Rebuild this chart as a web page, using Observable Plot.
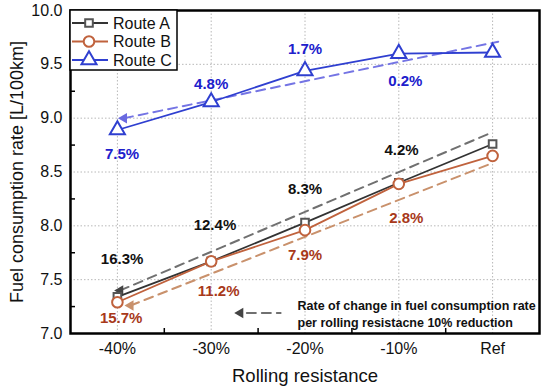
<!DOCTYPE html>
<html>
<head>
<meta charset="utf-8">
<script src="https://cdn.jsdelivr.net/npm/d3@7"></script>
<script src="https://cdn.jsdelivr.net/npm/@observablehq/plot@0.6"></script>
<style>
  html, body { margin: 0; padding: 0; background: #fff; }
  #chart { position: relative; width: 550px; height: 390px; }
  svg { font-family: "Liberation Sans", Arial, sans-serif; }
</style>
</head>
<body>
<div id="chart"></div>
<script>
// ---- data ----
const categories = ["-40%", "-30%", "-20%", "-10%", "Ref"];
const seriesNames = ["Route A", "Route B", "Route C"];
const routeA = [7.34, 7.67, 8.03, 8.40, 8.76];
const routeB = [7.29, 7.67, 7.96, 8.39, 8.65];
const routeC = [8.89, 9.15, 9.44, 9.60, 9.61];

// dashed trend lines (start at arrow head, end at right)
const trendAX = [0.03, 4.0];
const trendAY = [7.40, 8.87];
const trendBX = [0.14, 3.99];
const trendBY = [7.26, 8.58];
const trendCX = [0.07, 4.06];
const trendCY = [9.00, 9.71];

// percentage annotations
const labelsA = ["16.3%", "12.4%", "8.3%", "4.2%"];
const labelAX = [0.05, 1.04, 2.0, 3.03];
const labelAY = [7.69, 8.01, 8.34, 8.70];
const labelsB = ["15.7%", "11.2%", "7.9%", "2.8%"];
const labelBX = [0.04, 1.08, 2.0, 3.08];
const labelBY = [7.14, 7.39, 7.73, 8.07];
const labelsC = ["7.5%", "4.8%", "1.7%", "0.2%"];
const labelCX = [0.05, 1.0, 2.0, 3.07];
const labelCY = [8.67, 9.32, 9.64, 9.34];

// note
const noteText = "Rate of change in fuel consumption rate\nper rolling resistacne 10% reduction";
const noteArrowX = [1.31];
const noteLineX = [1.38, 1.74];
const noteY = [7.19];
const noteTextX = [1.92];

const yTicks = [7.0, 7.5, 8.0, 8.5, 9.0, 9.5, 10.0];
const yMinor = [7.25, 7.75, 8.25, 8.75, 9.25, 9.75];
const xMinor = [0.5, 1.5, 2.5, 3.5];

// ---- styles ----
const colLine = { "Route A": "#333333", "Route B": "#c0623d", "Route C": "#2f3fd0" };
const colMark = { "Route A": "#555555", "Route B": "#c0623d", "Route C": "#2f3fd0" };
const colDash = { "Route A": "#707070", "Route B": "#c9916c", "Route C": "#7474e4" };
const colHead = { "Route A": "#444444", "Route B": "#c9916c", "Route C": "#6a6ae0" };
const colLab = { "Route A": "#111111", "Route B": "#a8391a", "Route C": "#2020cc" };
const symbols = { "Route A": "square", "Route B": "circle", "Route C": "triangle" };
const sizes = { "Route A": 4.3, "Route B": 5.3, "Route C": 5.6 };

// ---- build tables ----
const seriesVals = [routeA, routeB, routeC];
const points = [];
seriesNames.forEach((s, k) => seriesVals[k].forEach((v, i) => points.push({ s, x: i, y: v })));
const trends = [
  { s: "Route A", X: trendAX, Y: trendAY },
  { s: "Route B", X: trendBX, Y: trendBY },
  { s: "Route C", X: trendCX, Y: trendCY }
];
const trendPts = trends.flatMap(t => t.X.map((x, i) => ({ s: t.s, x, y: t.Y[i] })));
const arrowHeads = trends.map(t => ({ s: t.s, x: t.X[0], y: t.Y[0] }));
const labelSets = [
  { s: "Route A", L: labelsA, X: labelAX, Y: labelAY },
  { s: "Route B", L: labelsB, X: labelBX, Y: labelBY },
  { s: "Route C", L: labelsC, X: labelCX, Y: labelCY }
];
const labels = labelSets.flatMap(o => o.L.map((t, i) => ({ s: o.s, t, x: o.X[i], y: o.Y[i] })));

const marks = [
  Plot.gridX([0, 1, 2, 3, 4], { stroke: "#b8b8b8", strokeOpacity: 1, strokeDasharray: "1.5,2" }),
  Plot.gridY([7.5, 8.0, 8.5, 9.0, 9.5], { stroke: "#b8b8b8", strokeOpacity: 1, strokeDasharray: "1.5,2" }),
  Plot.axisY(yTicks, { tickSize: 0, tickPadding: 8, tickFormat: d => d.toFixed(1), fontSize: 16, label: null, fill: "#111" }),
  Plot.axisY(yMinor, { tickSize: -5, tickFormat: () => "", label: null, strokeWidth: 1.5 }),
  Plot.axisX([0, 1, 2, 3, 4], { tickSize: 0, tickPadding: 9, tickFormat: i => categories[i], fontSize: 16, label: null, fill: "#111" }),
  Plot.axisX(xMinor, { tickSize: -5, tickFormat: () => "", label: null, strokeWidth: 1.5 }),
  Plot.text(["Fuel consumption rate [L/100km]"], { frameAnchor: "left", dx: -53, rotate: -90, textAnchor: "middle", lineAnchor: "middle", fontSize: 18, fill: "#111" }),
  Plot.text(["Rolling resistance"], { frameAnchor: "bottom", dy: 43, textAnchor: "middle", lineAnchor: "middle", fontSize: 18.5, fill: "#111" }),
  // dashed trend lines
  ...trends.map(t => Plot.line(trendPts.filter(d => d.s === t.s), { x: "x", y: "y", stroke: colDash[t.s], strokeWidth: 2, strokeDasharray: "9,6" })),
  ...trends.map(t => Plot.dot(arrowHeads.filter(d => d.s === t.s), { x: "x", y: "y", symbol: "triangle2", r: 5, rotate: -90, fill: colHead[t.s], stroke: "none" })),
  // main lines
  ...seriesNames.map(s => Plot.line(points.filter(d => d.s === s), { x: "x", y: "y", stroke: colLine[s], strokeWidth: 1.8 })),
  ...seriesNames.map(s => Plot.dot(points.filter(d => d.s === s), { x: "x", y: "y", symbol: symbols[s], r: sizes[s], stroke: colMark[s], strokeWidth: 2, fill: "white" })),
  // annotations
  ...seriesNames.map(s => Plot.text(labels.filter(d => d.s === s), { x: "x", y: "y", text: "t", fill: colLab[s], fontSize: 15, fontWeight: "bold" })),
  // note
  Plot.line(noteLineX.map(x => ({ x, y: noteY[0] })), { x: "x", y: "y", stroke: "#707070", strokeWidth: 2, strokeDasharray: "9,6" }),
  Plot.dot(noteArrowX.map(x => ({ x, y: noteY[0] })), { x: "x", y: "y", symbol: "triangle2", r: 5, rotate: -90, fill: "#444" }),
  Plot.text(noteTextX.map(x => ({ x, y: noteY[0] })), { x: "x", y: "y", text: () => noteText, textAnchor: "start", lineAnchor: "middle", fontSize: 12.5, fontWeight: "bold", fill: "#111", lineHeight: 1.35 }),
  Plot.frame({ stroke: "#000", strokeWidth: 2.5 })
];

const chart = Plot.plot({
  width: 550,
  height: 390,
  marginLeft: 70,
  marginRight: 11,
  marginTop: 10,
  marginBottom: 57,
  x: { type: "linear", domain: [-0.5, 4.5] },
  y: { type: "linear", domain: [7, 10] },
  style: { fontFamily: "'Liberation Sans', Arial, sans-serif", background: "white" },
  marks
});
document.getElementById("chart").appendChild(chart);

// ---- legend inside the SVG (top-left of frame) ----
const svg = d3.select(chart);
const lg = svg.append("g").attr("transform", "translate(70,10)");
lg.append("rect").attr("x", 0).attr("y", 0).attr("width", 107).attr("height", 60)
  .attr("fill", "white").attr("stroke", "#000").attr("stroke-width", 1.5);
seriesNames.forEach((s, i) => {
  const y = 13 + i * 18.5;
  lg.append("line").attr("x1", 2).attr("x2", 38).attr("y1", y).attr("y2", y)
    .attr("stroke", colLine[s]).attr("stroke-width", 1.8);
  lg.append("path").attr("transform", `translate(19,${y})`)
    .attr("d", d3.symbol(s === "Route A" ? d3.symbolSquare : s === "Route B" ? d3.symbolCircle : d3.symbolTriangle, Math.PI * sizes[s] * sizes[s])())
    .attr("fill", "white").attr("stroke", colMark[s]).attr("stroke-width", 2);
  lg.append("text").attr("x", 43).attr("y", y).attr("dy", "0.35em")
    .attr("text-anchor", "start")
    .attr("font-size", 16).attr("fill", "#111").text(s);
});
</script>
</body>
</html>
